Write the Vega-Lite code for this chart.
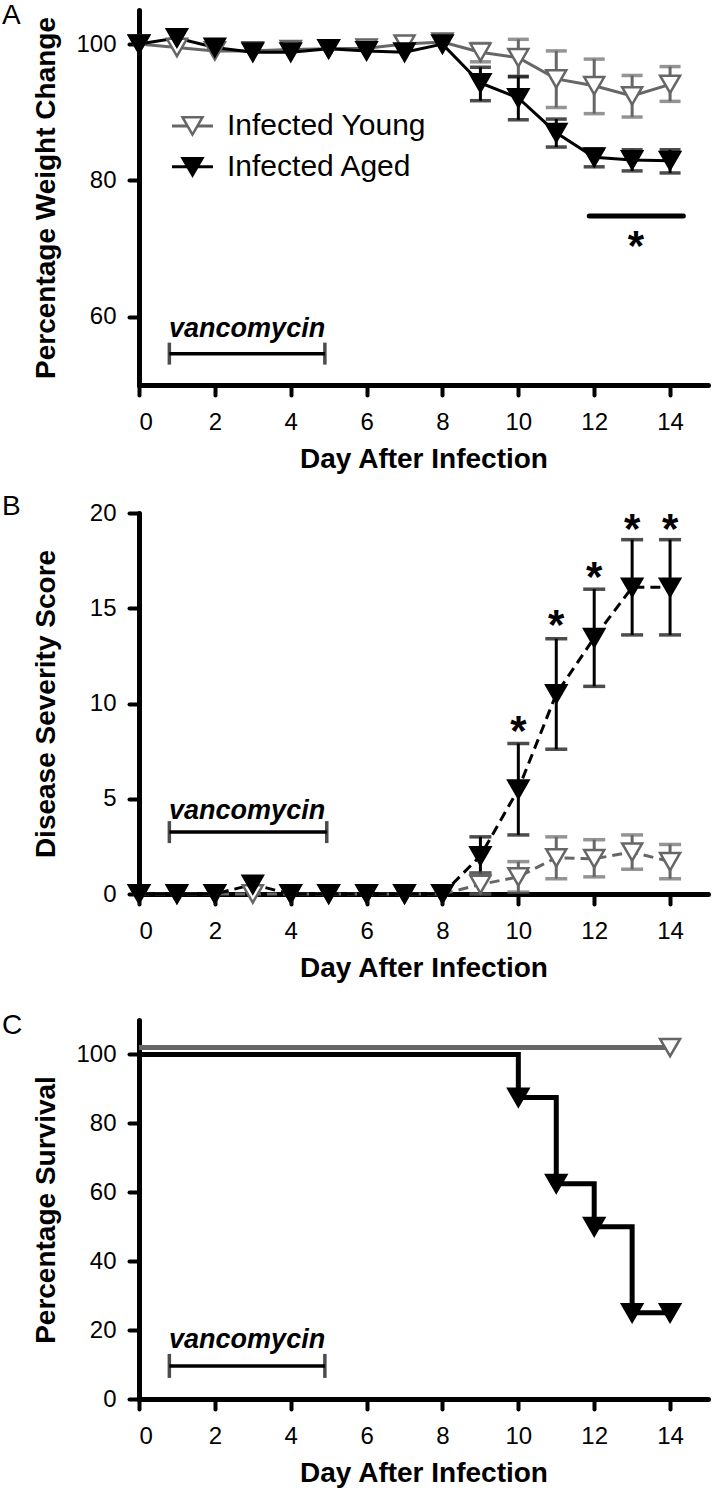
{
  "$schema": "https://vega.github.io/schema/vega-lite/v6.json",
  "padding": {"left": 2, "top": 2, "right": 5, "bottom": 5},
  "spacing": 30,
  "background": "white",
  "config": {
    "view": {"stroke": null},
    "font": "Liberation Sans",
    "axis": {
      "domainColor": "#000000", "domainWidth": 5, "domainCap": "round",
      "tickColor": "#000000", "tickWidth": 4, "tickSize": 10, "tickCap": "round",
      "labelFont": "Liberation Sans", "labelFontSize": 24, "labelColor": "#000000",
      "titleFont": "Liberation Sans", "titleFontSize": 28, "titleFontWeight": "bold", "titleColor": "#000000",
      "grid": false
    },
    "axisX": {"labelPadding": 15, "titlePadding": 11},
    "axisY": {"labelPadding": 13, "titlePadding": 15, "minExtent": 64, "maxExtent": 64},
    "title": {"anchor": "start", "frame": "bounds", "font": "Liberation Sans", "fontSize": 28, "fontWeight": "normal", "color": "#000000", "dx": -30, "dy": 24, "offset": 0}
  },
  "datasets": {
    "weight": [
      {"day": 0, "group": "Young", "mean": 100.0, "lo": null, "hi": null},
      {"day": 1, "group": "Young", "mean": 99.5, "lo": null, "hi": null},
      {"day": 2, "group": "Young", "mean": 99.0, "lo": null, "hi": null},
      {"day": 3, "group": "Young", "mean": 99.0, "lo": null, "hi": null},
      {"day": 4, "group": "Young", "mean": 99.2, "lo": null, "hi": null},
      {"day": 5, "group": "Young", "mean": 99.3, "lo": null, "hi": null},
      {"day": 6, "group": "Young", "mean": 99.4, "lo": null, "hi": null},
      {"day": 7, "group": "Young", "mean": 100.0, "lo": null, "hi": null},
      {"day": 8, "group": "Young", "mean": 100.3, "lo": null, "hi": null},
      {"day": 9, "group": "Young", "mean": 98.8, "lo": 97.4, "hi": 100.1},
      {"day": 10, "group": "Young", "mean": 98.0, "lo": 95.3, "hi": 100.7},
      {"day": 11, "group": "Young", "mean": 94.9, "lo": 90.7, "hi": 99.0},
      {"day": 12, "group": "Young", "mean": 93.9, "lo": 89.8, "hi": 97.8},
      {"day": 13, "group": "Young", "mean": 92.4, "lo": 89.3, "hi": 95.4},
      {"day": 14, "group": "Young", "mean": 94.1, "lo": 91.6, "hi": 96.7},
      {"day": 0, "group": "Aged", "mean": 100.0, "lo": null, "hi": null},
      {"day": 1, "group": "Aged", "mean": 100.9, "lo": null, "hi": null},
      {"day": 2, "group": "Aged", "mean": 99.5, "lo": null, "hi": null},
      {"day": 3, "group": "Aged", "mean": 98.8, "lo": null, "hi": null},
      {"day": 4, "group": "Aged", "mean": 98.8, "lo": null, "hi": null},
      {"day": 5, "group": "Aged", "mean": 99.3, "lo": null, "hi": null},
      {"day": 6, "group": "Aged", "mean": 99.0, "lo": null, "hi": null},
      {"day": 7, "group": "Aged", "mean": 98.8, "lo": null, "hi": null},
      {"day": 8, "group": "Aged", "mean": 100.0, "lo": null, "hi": null},
      {"day": 9, "group": "Aged", "mean": 94.3, "lo": 91.7, "hi": 96.6},
      {"day": 10, "group": "Aged", "mean": 92.1, "lo": 88.9, "hi": 95.2},
      {"day": 11, "group": "Aged", "mean": 87.0, "lo": 84.9, "hi": 89.0},
      {"day": 12, "group": "Aged", "mean": 83.4, "lo": 82.0, "hi": 84.6},
      {"day": 13, "group": "Aged", "mean": 83.0, "lo": 81.4, "hi": 84.5},
      {"day": 14, "group": "Aged", "mean": 82.9, "lo": 81.1, "hi": 84.5}
    ],
    "severity": [
      {"day": 0, "group": "Young", "mean": 0, "lo": null, "hi": null},
      {"day": 1, "group": "Young", "mean": 0, "lo": null, "hi": null},
      {"day": 2, "group": "Young", "mean": 0, "lo": null, "hi": null},
      {"day": 3, "group": "Young", "mean": 0, "lo": null, "hi": null},
      {"day": 4, "group": "Young", "mean": 0, "lo": null, "hi": null},
      {"day": 5, "group": "Young", "mean": 0, "lo": null, "hi": null},
      {"day": 6, "group": "Young", "mean": 0, "lo": null, "hi": null},
      {"day": 7, "group": "Young", "mean": 0, "lo": null, "hi": null},
      {"day": 8, "group": "Young", "mean": 0, "lo": null, "hi": null},
      {"day": 9, "group": "Young", "mean": 0.5, "lo": 0.0, "hi": 1.1},
      {"day": 10, "group": "Young", "mean": 0.9, "lo": 0.1, "hi": 1.7},
      {"day": 11, "group": "Young", "mean": 1.9, "lo": 0.8, "hi": 3.0},
      {"day": 12, "group": "Young", "mean": 1.85, "lo": 0.9, "hi": 2.85},
      {"day": 13, "group": "Young", "mean": 2.2, "lo": 1.3, "hi": 3.1},
      {"day": 14, "group": "Young", "mean": 1.7, "lo": 0.8, "hi": 2.6},
      {"day": 0, "group": "Aged", "mean": 0, "lo": null, "hi": null},
      {"day": 1, "group": "Aged", "mean": 0, "lo": null, "hi": null},
      {"day": 2, "group": "Aged", "mean": 0, "lo": null, "hi": null},
      {"day": 3, "group": "Aged", "mean": 0.5, "lo": null, "hi": null},
      {"day": 4, "group": "Aged", "mean": 0, "lo": null, "hi": null},
      {"day": 5, "group": "Aged", "mean": 0, "lo": null, "hi": null},
      {"day": 6, "group": "Aged", "mean": 0, "lo": null, "hi": null},
      {"day": 7, "group": "Aged", "mean": 0, "lo": null, "hi": null},
      {"day": 8, "group": "Aged", "mean": 0, "lo": null, "hi": null},
      {"day": 9, "group": "Aged", "mean": 2.0, "lo": 1.1, "hi": 3.0},
      {"day": 10, "group": "Aged", "mean": 5.5, "lo": 3.1, "hi": 7.9},
      {"day": 11, "group": "Aged", "mean": 10.5, "lo": 7.6, "hi": 13.4},
      {"day": 12, "group": "Aged", "mean": 13.45, "lo": 10.9, "hi": 16.0},
      {"day": 13, "group": "Aged", "mean": 16.1, "lo": 13.6, "hi": 18.6},
      {"day": 14, "group": "Aged", "mean": 16.1, "lo": 13.6, "hi": 18.6}
    ],
    "survivalLine": [
      {"day": 0, "group": "Young", "pct": 102},
      {"day": 14, "group": "Young", "pct": 102},
      {"day": 0, "group": "Aged", "pct": 100},
      {"day": 10, "group": "Aged", "pct": 87.5},
      {"day": 11, "group": "Aged", "pct": 62.5},
      {"day": 12, "group": "Aged", "pct": 50},
      {"day": 13, "group": "Aged", "pct": 25},
      {"day": 14, "group": "Aged", "pct": 25}
    ],
    "survivalPts": [
      {"day": 14, "group": "Young", "pct": 102},
      {"day": 10, "group": "Aged", "pct": 87.5},
      {"day": 11, "group": "Aged", "pct": 62.5},
      {"day": 12, "group": "Aged", "pct": 50},
      {"day": 13, "group": "Aged", "pct": 25},
      {"day": 14, "group": "Aged", "pct": 25}
    ],
    "legendA": [
      {"group": "Young", "x1": 0.87, "x2": 1.95, "xm": 1.41, "xt": 2.32, "y": 88.0, "label": "Infected Young"},
      {"group": "Aged", "x1": 0.87, "x2": 1.95, "xm": 1.41, "xt": 2.32, "y": 82.0, "label": "Infected Aged"}
    ],
    "starsB": [
      {"day": 10, "y": 7.8},
      {"day": 11, "y": 13.4},
      {"day": 12, "y": 15.9},
      {"day": 13, "y": 18.4},
      {"day": 14, "y": 18.4}
    ]
  },
  "vconcat": [
    {
      "spacing": 20,
      "vconcat": [
        {
          "title": "A",
          "width": 569,
          "height": 375,
          "layer": [
            {
              "data": {"values": [{"a": 0.8, "b": 4.9, "y": 54.6}]},
              "mark": {"type": "rule", "strokeWidth": 3.5, "color": "#000000"},
              "encoding": {
                "x": {"field": "a", "type": "quantitative", "scale": {"domain": [0, 15], "nice": false}, "axis": {"values": [0, 2, 4, 6, 8, 10, 12, 14], "title": "Day After Infection"}},
                "x2": {"field": "b"},
                "y": {"field": "y", "type": "quantitative", "scale": {"domain": [50, 105], "nice": false}, "axis": {"values": [60, 80, 100], "title": "Percentage Weight Change"}}
              }
            },
            {
              "data": {"values": [{"x": 0.8, "y": 54.6}, {"x": 4.9, "y": 54.6}]},
              "mark": {"type": "tick", "orient": "vertical", "size": 22, "thickness": 3.5, "color": "#000000"},
              "encoding": {"x": {"field": "x", "type": "quantitative"}, "y": {"field": "y", "type": "quantitative"}}
            },
            {
              "data": {"values": [{"x": 2.85, "y": 58.2, "label": "vancomycin"}]},
              "mark": {"type": "text", "fontSize": 27, "fontWeight": "bold", "fontStyle": "italic", "baseline": "middle", "align": "center", "color": "#000000"},
              "encoding": {"x": {"field": "x", "type": "quantitative"}, "y": {"field": "y", "type": "quantitative"}, "text": {"field": "label"}}
            },
            {
              "data": {"values": [{"a": 11.87, "b": 14.35, "y": 74.8}]},
              "mark": {"type": "rule", "strokeWidth": 5, "color": "#000000", "strokeCap": "round"},
              "encoding": {"x": {"field": "a", "type": "quantitative"}, "x2": {"field": "b"}, "y": {"field": "y", "type": "quantitative"}}
            },
            {
              "data": {"values": [{"x": 13.1, "y": 68.3, "s": "*"}]},
              "mark": {"type": "text", "fontSize": 42, "fontWeight": "bold", "baseline": "alphabetic", "align": "center", "color": "#000000"},
              "encoding": {"x": {"field": "x", "type": "quantitative"}, "y": {"field": "y", "type": "quantitative"}, "text": {"field": "s"}}
            },
            {
              "data": {"name": "legendA"},
              "mark": {"type": "rule", "strokeWidth": 3},
              "encoding": {
                "x": {"field": "x1", "type": "quantitative"}, "x2": {"field": "x2"},
                "y": {"field": "y", "type": "quantitative"},
                "stroke": {"field": "group", "type": "nominal", "scale": {"domain": ["Young", "Aged"], "range": ["#666666", "#000000"]}, "legend": null}
              }
            },
            {
              "data": {"name": "legendA"},
              "mark": {"type": "point", "shape": "triangle-down", "size": 400, "strokeWidth": 2.5, "opacity": 1},
              "encoding": {
                "x": {"field": "xm", "type": "quantitative"},
                "y": {"field": "y", "type": "quantitative"},
                "stroke": {"field": "group", "type": "nominal", "legend": null},
                "fill": {"field": "group", "type": "nominal", "scale": {"domain": ["Young", "Aged"], "range": ["#ffffff", "#000000"]}, "legend": null}
              }
            },
            {
              "data": {"name": "legendA"},
              "mark": {"type": "text", "fontSize": 30, "align": "left", "baseline": "middle", "color": "#000000"},
              "encoding": {
                "x": {"field": "xt", "type": "quantitative"},
                "y": {"field": "y", "type": "quantitative"},
                "text": {"field": "label"}
              }
            },
            {
              "data": {"name": "weight"},
              "transform": [{"filter": "datum.lo != null"}],
              "mark": {"type": "rule", "strokeWidth": 3},
              "encoding": {
                "x": {"field": "day", "type": "quantitative"},
                "y": {"field": "lo", "type": "quantitative"},
                "y2": {"field": "hi"},
                "stroke": {"field": "group", "type": "nominal", "legend": null}
              }
            },
            {
              "data": {"name": "weight"},
              "transform": [{"filter": "datum.lo != null"}],
              "mark": {"type": "tick", "orient": "horizontal", "size": 21, "thickness": 3.5},
              "encoding": {
                "x": {"field": "day", "type": "quantitative"},
                "y": {"field": "lo", "type": "quantitative"},
                "color": {"field": "group", "type": "nominal", "scale": {"domain": ["Young", "Aged"], "range": ["#666666", "#000000"]}, "legend": null}
              }
            },
            {
              "data": {"name": "weight"},
              "transform": [{"filter": "datum.lo != null"}],
              "mark": {"type": "tick", "orient": "horizontal", "size": 21, "thickness": 3.5},
              "encoding": {
                "x": {"field": "day", "type": "quantitative"},
                "y": {"field": "hi", "type": "quantitative"},
                "color": {"field": "group", "type": "nominal", "legend": null}
              }
            },
            {
              "data": {"name": "weight"},
              "mark": {"type": "line", "strokeWidth": 3},
              "encoding": {
                "x": {"field": "day", "type": "quantitative"},
                "y": {"field": "mean", "type": "quantitative"},
                "stroke": {"field": "group", "type": "nominal", "legend": null}
              }
            },
            {
              "data": {"name": "weight"},
              "mark": {"type": "point", "shape": "triangle-down", "size": 400, "strokeWidth": 2.5, "opacity": 1},
              "encoding": {
                "x": {"field": "day", "type": "quantitative"},
                "y": {"field": "mean", "type": "quantitative"},
                "stroke": {"field": "group", "type": "nominal", "legend": null},
                "fill": {"field": "group", "type": "nominal", "legend": null}
              }
            }
          ]
        },
        {
          "title": "B",
          "width": 569,
          "height": 381,
          "layer": [
            {
              "data": {"values": [{"a": 0.8, "b": 4.95, "y": 3.25}]},
              "mark": {"type": "rule", "strokeWidth": 3.5, "color": "#000000"},
              "encoding": {
                "x": {"field": "a", "type": "quantitative", "scale": {"domain": [0, 15], "nice": false}, "axis": {"values": [0, 2, 4, 6, 8, 10, 12, 14], "title": "Day After Infection"}},
                "x2": {"field": "b"},
                "y": {"field": "y", "type": "quantitative", "scale": {"domain": [0, 20], "nice": false}, "axis": {"values": [0, 5, 10, 15, 20], "title": "Disease Severity Score"}}
              }
            },
            {
              "data": {"values": [{"x": 0.8, "y": 3.25}, {"x": 4.95, "y": 3.25}]},
              "mark": {"type": "tick", "orient": "vertical", "size": 22, "thickness": 3.5, "color": "#000000"},
              "encoding": {"x": {"field": "x", "type": "quantitative"}, "y": {"field": "y", "type": "quantitative"}}
            },
            {
              "data": {"values": [{"x": 2.85, "y": 4.36, "label": "vancomycin"}]},
              "mark": {"type": "text", "fontSize": 27, "fontWeight": "bold", "fontStyle": "italic", "baseline": "middle", "align": "center", "color": "#000000"},
              "encoding": {"x": {"field": "x", "type": "quantitative"}, "y": {"field": "y", "type": "quantitative"}, "text": {"field": "label"}}
            },
            {
              "data": {"name": "starsB"},
              "mark": {"type": "text", "fontSize": 42, "fontWeight": "bold", "baseline": "alphabetic", "align": "center", "color": "#000000", "text": "*"},
              "encoding": {"x": {"field": "day", "type": "quantitative"}, "y": {"field": "y", "type": "quantitative"}}
            },
            {
              "data": {"name": "severity"},
              "transform": [{"filter": "datum.lo != null"}],
              "mark": {"type": "rule", "strokeWidth": 3},
              "encoding": {
                "x": {"field": "day", "type": "quantitative"},
                "y": {"field": "lo", "type": "quantitative"},
                "y2": {"field": "hi"},
                "stroke": {"field": "group", "type": "nominal", "scale": {"domain": ["Young", "Aged"], "range": ["#666666", "#000000"]}, "legend": null}
              }
            },
            {
              "data": {"name": "severity"},
              "transform": [{"filter": "datum.lo != null"}],
              "mark": {"type": "tick", "orient": "horizontal", "size": 22, "thickness": 3.5},
              "encoding": {
                "x": {"field": "day", "type": "quantitative"},
                "y": {"field": "lo", "type": "quantitative"},
                "color": {"field": "group", "type": "nominal", "scale": {"domain": ["Young", "Aged"], "range": ["#666666", "#000000"]}, "legend": null}
              }
            },
            {
              "data": {"name": "severity"},
              "transform": [{"filter": "datum.lo != null"}],
              "mark": {"type": "tick", "orient": "horizontal", "size": 22, "thickness": 3.5},
              "encoding": {
                "x": {"field": "day", "type": "quantitative"},
                "y": {"field": "hi", "type": "quantitative"},
                "color": {"field": "group", "type": "nominal", "legend": null}
              }
            },
            {
              "data": {"name": "severity"},
              "mark": {"type": "line", "strokeWidth": 3, "strokeDash": [10, 6]},
              "encoding": {
                "x": {"field": "day", "type": "quantitative"},
                "y": {"field": "mean", "type": "quantitative"},
                "stroke": {"field": "group", "type": "nominal", "legend": null}
              }
            },
            {
              "data": {"name": "severity"},
              "mark": {"type": "point", "shape": "triangle-down", "size": 400, "strokeWidth": 2.5, "opacity": 1},
              "encoding": {
                "x": {"field": "day", "type": "quantitative"},
                "y": {"field": "mean", "type": "quantitative"},
                "stroke": {"field": "group", "type": "nominal", "legend": null},
                "fill": {"field": "group", "type": "nominal", "scale": {"domain": ["Young", "Aged"], "range": ["#ffffff", "#000000"]}, "legend": null}
              }
            }
          ]
        }
      ]
    },
    {
      "title": "C",
      "width": 569,
      "height": 379,
      "layer": [
        {
          "data": {"values": [{"a": 0.8, "b": 4.9, "y": 9.6}]},
          "mark": {"type": "rule", "strokeWidth": 3.5, "color": "#000000"},
          "encoding": {
            "x": {"field": "a", "type": "quantitative", "scale": {"domain": [0, 15], "nice": false}, "axis": {"values": [0, 2, 4, 6, 8, 10, 12, 14], "title": "Day After Infection"}},
            "x2": {"field": "b"},
            "y": {"field": "y", "type": "quantitative", "scale": {"domain": [0, 110], "nice": false}, "axis": {"values": [0, 20, 40, 60, 80, 100], "title": "Percentage Survival"}}
          }
        },
        {
          "data": {"values": [{"x": 0.8, "y": 9.6}, {"x": 4.9, "y": 9.6}]},
          "mark": {"type": "tick", "orient": "vertical", "size": 24, "thickness": 3.5, "color": "#000000"},
          "encoding": {"x": {"field": "x", "type": "quantitative"}, "y": {"field": "y", "type": "quantitative"}}
        },
        {
          "data": {"values": [{"x": 2.85, "y": 17.1, "label": "vancomycin"}]},
          "mark": {"type": "text", "fontSize": 27, "fontWeight": "bold", "fontStyle": "italic", "baseline": "middle", "align": "center", "color": "#000000"},
          "encoding": {"x": {"field": "x", "type": "quantitative"}, "y": {"field": "y", "type": "quantitative"}, "text": {"field": "label"}}
        },
        {
          "data": {"name": "survivalLine"},
          "mark": {"type": "line", "strokeWidth": 5, "interpolate": "step-after"},
          "encoding": {
            "x": {"field": "day", "type": "quantitative"},
            "y": {"field": "pct", "type": "quantitative"},
            "stroke": {"field": "group", "type": "nominal", "scale": {"domain": ["Young", "Aged"], "range": ["#666666", "#000000"]}, "legend": null}
          }
        },
        {
          "data": {"name": "survivalPts"},
          "mark": {"type": "point", "shape": "triangle-down", "size": 400, "strokeWidth": 2.5, "opacity": 1},
          "encoding": {
            "x": {"field": "day", "type": "quantitative"},
            "y": {"field": "pct", "type": "quantitative"},
            "stroke": {"field": "group", "type": "nominal", "legend": null},
            "fill": {"field": "group", "type": "nominal", "scale": {"domain": ["Young", "Aged"], "range": ["#ffffff", "#000000"]}, "legend": null}
          }
        }
      ]
    }
  ]
}
